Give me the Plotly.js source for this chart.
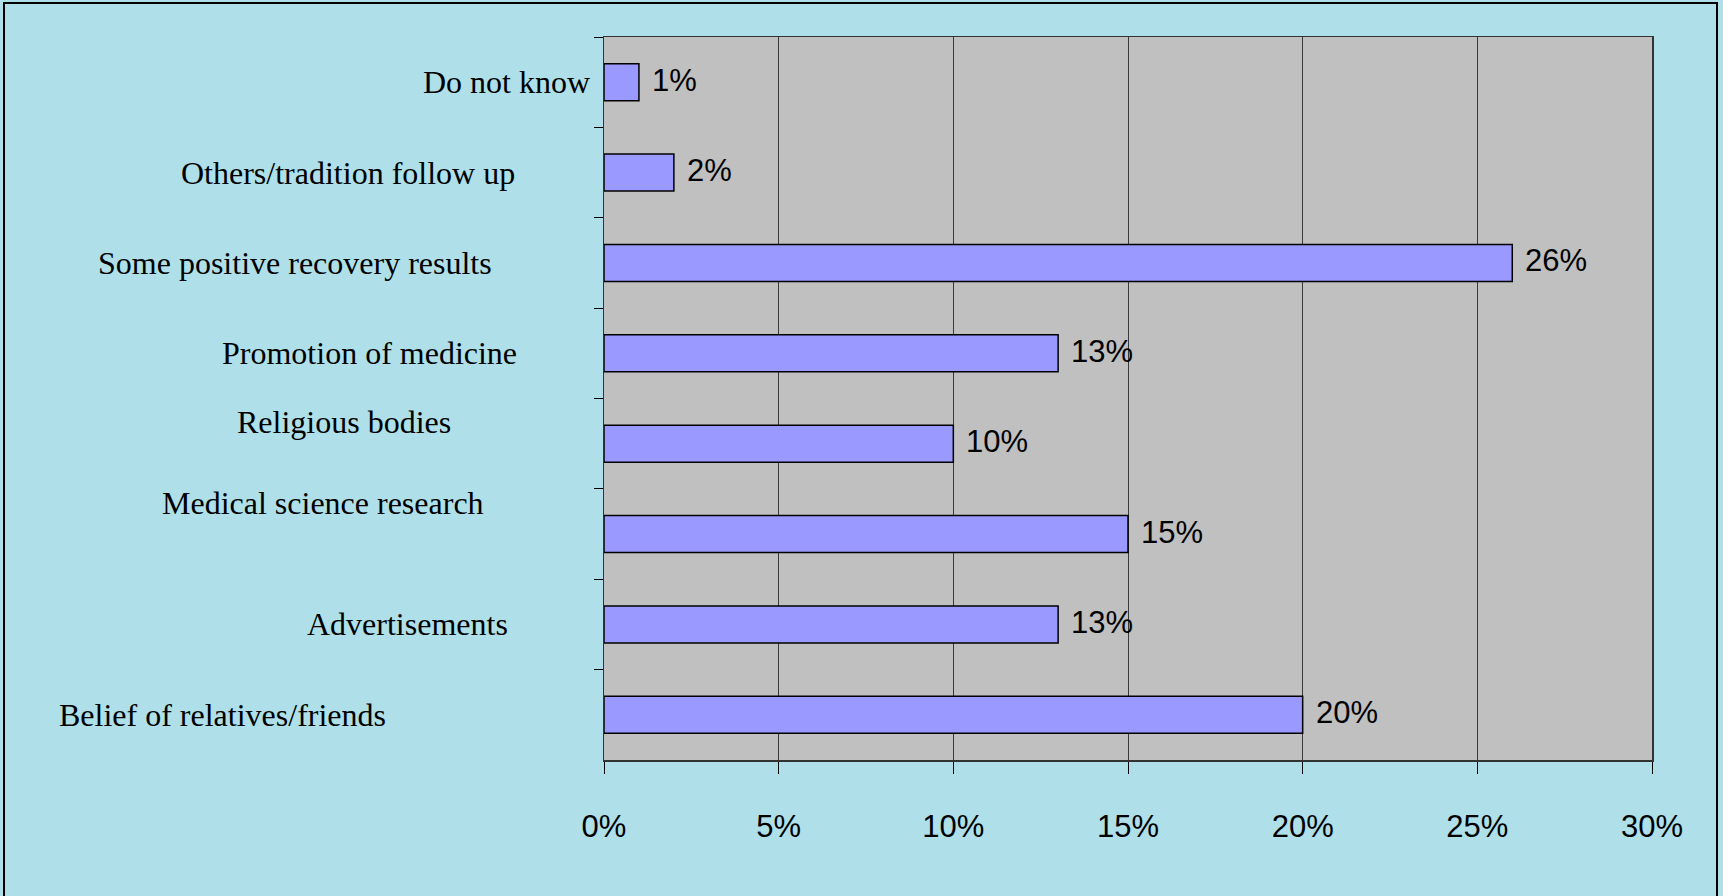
<!DOCTYPE html>
<html>
<head>
<meta charset="utf-8">
<script src="https://cdn.plot.ly/plotly-3.0.1.min.js"></script>
<style>
  html, body { margin: 0; padding: 0; background: #ffffff; }
  #chart { position: absolute; left: 0; top: 0; width: 1723px; height: 896px; }
  #frame { position: absolute; left: 3px; top: 2px; width: 1711px; height: 900px; border: 2px solid #000; pointer-events: none; }
</style>
</head>
<body>
<div id="chart"></div>
<div id="frame"></div>
<script>
// ---- data ----
const categories = [
  "Do not know",
  "Others/tradition follow up",
  "Some positive recovery results",
  "Promotion of medicine",
  "Religious bodies",
  "Medical science research",
  "Advertisements",
  "Belief of relatives/friends"
];
const shares = [0.01, 0.02, 0.26, 0.13, 0.10, 0.15, 0.13, 0.20];
const xTickValues = [0, 0.05, 0.10, 0.15, 0.20, 0.25, 0.30];
const xTickLabels = ["0%", "5%", "10%", "15%", "20%", "25%", "30%"];

// ---- styling: label placement offsets (px, relative to axis / category) ----
const labelXShift = [-98, -256, -309, -235, -260, -281, -197, -382];
const labelYShift = [0, 0, 0, 0, 22, 31, 0, 0];

const serif = "Liberation Serif, Times New Roman, serif";
const sans = "Liberation Sans, Arial, sans-serif";

const trace = {
  type: "bar",
  orientation: "h",
  y: categories,
  x: shares,
  marker: { color: "#9999FF", line: { color: "#000000", width: 1.5 } },
  hoverinfo: "skip"
};

const annotations = [];
categories.forEach((c, i) => {
  annotations.push({
    xref: "x", yref: "y", x: 0, y: c,
    text: c, showarrow: false,
    xanchor: "center", yanchor: "middle",
    xshift: labelXShift[i], yshift: labelYShift[i],
    font: { family: serif, size: 32, color: "#000" }
  });
  annotations.push({
    xref: "x", yref: "y", x: shares[i], y: c,
    text: Math.round(shares[i] * 100) + "%", showarrow: false,
    xanchor: "left", yanchor: "middle", xshift: 11, yshift: 2,
    font: { family: sans, size: 31, color: "#000" }
  });
});

const layout = {
  width: 1723, height: 896,
  margin: { l: 604, r: 71, t: 37, b: 136, pad: 0 },
  paper_bgcolor: "#AFE0EA",
  plot_bgcolor: "#C0C0C0",
  showlegend: false,
  bargap: 0.59,
  xaxis: {
    range: [0, 0.30],
    tickvals: xTickValues, ticktext: xTickLabels,
    showgrid: true, gridcolor: "#3a3a3a", gridwidth: 1,
    showline: true, linecolor: "#333", linewidth: 1.5, mirror: true,
    ticks: "outside", ticklen: 12, tickcolor: "#000", tickwidth: 1,
    ticklabelstandoff: 26,
    tickfont: { family: sans, size: 31, color: "#000" },
    zeroline: false, fixedrange: true
  },
  yaxis: {
    type: "category",
    autorange: "reversed",
    showticklabels: false,
    tickson: "boundaries",
    ticks: "outside", ticklen: 9, tickcolor: "#000", tickwidth: 1,
    showgrid: false,
    showline: true, linecolor: "#333", linewidth: 1.5, mirror: true,
    zeroline: false, fixedrange: true
  },
  annotations: annotations
};

Plotly.newPlot("chart", [trace], layout, { displayModeBar: false, staticPlot: true });
</script>
</body>
</html>
